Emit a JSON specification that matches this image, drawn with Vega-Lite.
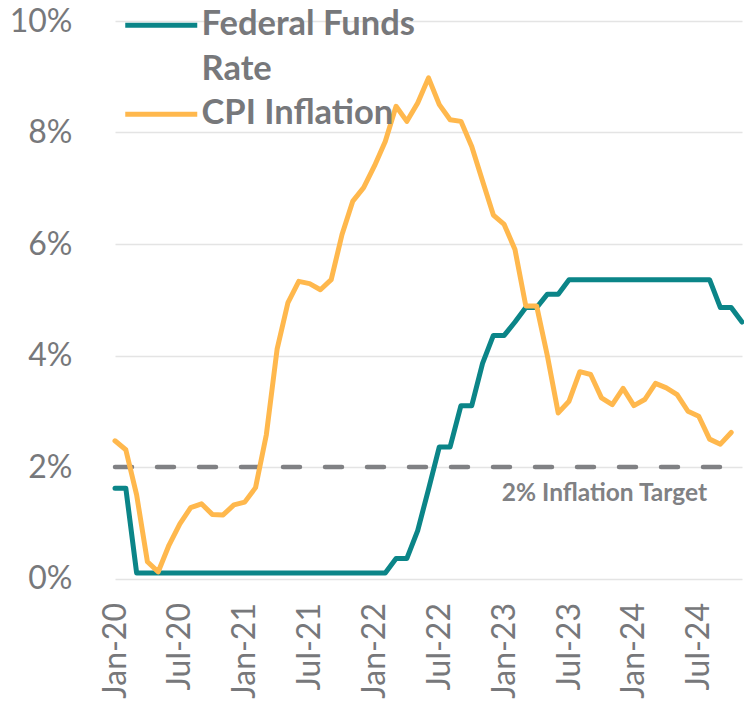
{
  "$schema": "https://vega.github.io/schema/vega-lite/v6.json",
  "autosize": "none",
  "width": 636,
  "height": 557.5,
  "padding": {"left": 108, "top": 21, "right": 0, "bottom": 125},
  "background": "white",
  "config": {
    "view": {"stroke": null},
    "font": "Lato",
    "style": {"guide-label": {"lineHeight": 45}}
  },
  "datasets": {
    "series": [
      {"month": "Jan-20", "series": "Federal Funds Rate", "value": 1.62},
      {"month": "Feb-20", "series": "Federal Funds Rate", "value": 1.62},
      {"month": "Mar-20", "series": "Federal Funds Rate", "value": 0.1},
      {"month": "Apr-20", "series": "Federal Funds Rate", "value": 0.1},
      {"month": "May-20", "series": "Federal Funds Rate", "value": 0.1},
      {"month": "Jun-20", "series": "Federal Funds Rate", "value": 0.1},
      {"month": "Jul-20", "series": "Federal Funds Rate", "value": 0.1},
      {"month": "Aug-20", "series": "Federal Funds Rate", "value": 0.1},
      {"month": "Sep-20", "series": "Federal Funds Rate", "value": 0.1},
      {"month": "Oct-20", "series": "Federal Funds Rate", "value": 0.1},
      {"month": "Nov-20", "series": "Federal Funds Rate", "value": 0.1},
      {"month": "Dec-20", "series": "Federal Funds Rate", "value": 0.1},
      {"month": "Jan-21", "series": "Federal Funds Rate", "value": 0.1},
      {"month": "Feb-21", "series": "Federal Funds Rate", "value": 0.1},
      {"month": "Mar-21", "series": "Federal Funds Rate", "value": 0.1},
      {"month": "Apr-21", "series": "Federal Funds Rate", "value": 0.1},
      {"month": "May-21", "series": "Federal Funds Rate", "value": 0.1},
      {"month": "Jun-21", "series": "Federal Funds Rate", "value": 0.1},
      {"month": "Jul-21", "series": "Federal Funds Rate", "value": 0.1},
      {"month": "Aug-21", "series": "Federal Funds Rate", "value": 0.1},
      {"month": "Sep-21", "series": "Federal Funds Rate", "value": 0.1},
      {"month": "Oct-21", "series": "Federal Funds Rate", "value": 0.1},
      {"month": "Nov-21", "series": "Federal Funds Rate", "value": 0.1},
      {"month": "Dec-21", "series": "Federal Funds Rate", "value": 0.1},
      {"month": "Jan-22", "series": "Federal Funds Rate", "value": 0.1},
      {"month": "Feb-22", "series": "Federal Funds Rate", "value": 0.1},
      {"month": "Mar-22", "series": "Federal Funds Rate", "value": 0.36},
      {"month": "Apr-22", "series": "Federal Funds Rate", "value": 0.36},
      {"month": "May-22", "series": "Federal Funds Rate", "value": 0.86},
      {"month": "Jun-22", "series": "Federal Funds Rate", "value": 1.6},
      {"month": "Jul-22", "series": "Federal Funds Rate", "value": 2.36},
      {"month": "Aug-22", "series": "Federal Funds Rate", "value": 2.36},
      {"month": "Sep-22", "series": "Federal Funds Rate", "value": 3.1},
      {"month": "Oct-22", "series": "Federal Funds Rate", "value": 3.1},
      {"month": "Nov-22", "series": "Federal Funds Rate", "value": 3.86},
      {"month": "Dec-22", "series": "Federal Funds Rate", "value": 4.36},
      {"month": "Jan-23", "series": "Federal Funds Rate", "value": 4.36},
      {"month": "Feb-23", "series": "Federal Funds Rate", "value": 4.6},
      {"month": "Mar-23", "series": "Federal Funds Rate", "value": 4.86},
      {"month": "Apr-23", "series": "Federal Funds Rate", "value": 4.86},
      {"month": "May-23", "series": "Federal Funds Rate", "value": 5.1},
      {"month": "Jun-23", "series": "Federal Funds Rate", "value": 5.1},
      {"month": "Jul-23", "series": "Federal Funds Rate", "value": 5.36},
      {"month": "Aug-23", "series": "Federal Funds Rate", "value": 5.36},
      {"month": "Sep-23", "series": "Federal Funds Rate", "value": 5.36},
      {"month": "Oct-23", "series": "Federal Funds Rate", "value": 5.36},
      {"month": "Nov-23", "series": "Federal Funds Rate", "value": 5.36},
      {"month": "Dec-23", "series": "Federal Funds Rate", "value": 5.36},
      {"month": "Jan-24", "series": "Federal Funds Rate", "value": 5.36},
      {"month": "Feb-24", "series": "Federal Funds Rate", "value": 5.36},
      {"month": "Mar-24", "series": "Federal Funds Rate", "value": 5.36},
      {"month": "Apr-24", "series": "Federal Funds Rate", "value": 5.36},
      {"month": "May-24", "series": "Federal Funds Rate", "value": 5.36},
      {"month": "Jun-24", "series": "Federal Funds Rate", "value": 5.36},
      {"month": "Jul-24", "series": "Federal Funds Rate", "value": 5.36},
      {"month": "Aug-24", "series": "Federal Funds Rate", "value": 5.36},
      {"month": "Sep-24", "series": "Federal Funds Rate", "value": 4.86},
      {"month": "Oct-24", "series": "Federal Funds Rate", "value": 4.86},
      {"month": "Nov-24", "series": "Federal Funds Rate", "value": 4.6},
      {"month": "Jan-20", "series": "CPI Inflation", "value": 2.47},
      {"month": "Feb-20", "series": "CPI Inflation", "value": 2.31},
      {"month": "Mar-20", "series": "CPI Inflation", "value": 1.5},
      {"month": "Apr-20", "series": "CPI Inflation", "value": 0.3},
      {"month": "May-20", "series": "CPI Inflation", "value": 0.12},
      {"month": "Jun-20", "series": "CPI Inflation", "value": 0.6},
      {"month": "Jul-20", "series": "CPI Inflation", "value": 0.98},
      {"month": "Aug-20", "series": "CPI Inflation", "value": 1.27},
      {"month": "Sep-20", "series": "CPI Inflation", "value": 1.34},
      {"month": "Oct-20", "series": "CPI Inflation", "value": 1.15},
      {"month": "Nov-20", "series": "CPI Inflation", "value": 1.14},
      {"month": "Dec-20", "series": "CPI Inflation", "value": 1.32},
      {"month": "Jan-21", "series": "CPI Inflation", "value": 1.37},
      {"month": "Feb-21", "series": "CPI Inflation", "value": 1.63},
      {"month": "Mar-21", "series": "CPI Inflation", "value": 2.58},
      {"month": "Apr-21", "series": "CPI Inflation", "value": 4.12},
      {"month": "May-21", "series": "CPI Inflation", "value": 4.95},
      {"month": "Jun-21", "series": "CPI Inflation", "value": 5.33},
      {"month": "Jul-21", "series": "CPI Inflation", "value": 5.29},
      {"month": "Aug-21", "series": "CPI Inflation", "value": 5.18},
      {"month": "Sep-21", "series": "CPI Inflation", "value": 5.36},
      {"month": "Oct-21", "series": "CPI Inflation", "value": 6.17},
      {"month": "Nov-21", "series": "CPI Inflation", "value": 6.77},
      {"month": "Dec-21", "series": "CPI Inflation", "value": 7.01},
      {"month": "Jan-22", "series": "CPI Inflation", "value": 7.4},
      {"month": "Feb-22", "series": "CPI Inflation", "value": 7.84},
      {"month": "Mar-22", "series": "CPI Inflation", "value": 8.47},
      {"month": "Apr-22", "series": "CPI Inflation", "value": 8.2},
      {"month": "May-22", "series": "CPI Inflation", "value": 8.53},
      {"month": "Jun-22", "series": "CPI Inflation", "value": 8.98},
      {"month": "Jul-22", "series": "CPI Inflation", "value": 8.5},
      {"month": "Aug-22", "series": "CPI Inflation", "value": 8.23},
      {"month": "Sep-22", "series": "CPI Inflation", "value": 8.2},
      {"month": "Oct-22", "series": "CPI Inflation", "value": 7.75},
      {"month": "Nov-22", "series": "CPI Inflation", "value": 7.13},
      {"month": "Dec-22", "series": "CPI Inflation", "value": 6.52},
      {"month": "Jan-23", "series": "CPI Inflation", "value": 6.35},
      {"month": "Feb-23", "series": "CPI Inflation", "value": 5.9},
      {"month": "Mar-23", "series": "CPI Inflation", "value": 4.89},
      {"month": "Apr-23", "series": "CPI Inflation", "value": 4.89},
      {"month": "May-23", "series": "CPI Inflation", "value": 3.99},
      {"month": "Jun-23", "series": "CPI Inflation", "value": 2.97},
      {"month": "Jul-23", "series": "CPI Inflation", "value": 3.18},
      {"month": "Aug-23", "series": "CPI Inflation", "value": 3.71},
      {"month": "Sep-23", "series": "CPI Inflation", "value": 3.66},
      {"month": "Oct-23", "series": "CPI Inflation", "value": 3.24},
      {"month": "Nov-23", "series": "CPI Inflation", "value": 3.12},
      {"month": "Dec-23", "series": "CPI Inflation", "value": 3.41},
      {"month": "Jan-24", "series": "CPI Inflation", "value": 3.1},
      {"month": "Feb-24", "series": "CPI Inflation", "value": 3.21},
      {"month": "Mar-24", "series": "CPI Inflation", "value": 3.5},
      {"month": "Apr-24", "series": "CPI Inflation", "value": 3.42},
      {"month": "May-24", "series": "CPI Inflation", "value": 3.3},
      {"month": "Jun-24", "series": "CPI Inflation", "value": 3.0},
      {"month": "Jul-24", "series": "CPI Inflation", "value": 2.91},
      {"month": "Aug-24", "series": "CPI Inflation", "value": 2.5},
      {"month": "Sep-24", "series": "CPI Inflation", "value": 2.41},
      {"month": "Oct-24", "series": "CPI Inflation", "value": 2.62}
    ],
    "target": [
      {"month": "Jan-20", "value": 2}, {"month": "Feb-20", "value": 2}, {"month": "Mar-20", "value": 2},
      {"month": "Apr-20", "value": 2}, {"month": "May-20", "value": 2}, {"month": "Jun-20", "value": 2},
      {"month": "Jul-20", "value": 2}, {"month": "Aug-20", "value": 2}, {"month": "Sep-20", "value": 2},
      {"month": "Oct-20", "value": 2}, {"month": "Nov-20", "value": 2}, {"month": "Dec-20", "value": 2},
      {"month": "Jan-21", "value": 2}, {"month": "Feb-21", "value": 2}, {"month": "Mar-21", "value": 2},
      {"month": "Apr-21", "value": 2}, {"month": "May-21", "value": 2}, {"month": "Jun-21", "value": 2},
      {"month": "Jul-21", "value": 2}, {"month": "Aug-21", "value": 2}, {"month": "Sep-21", "value": 2},
      {"month": "Oct-21", "value": 2}, {"month": "Nov-21", "value": 2}, {"month": "Dec-21", "value": 2},
      {"month": "Jan-22", "value": 2}, {"month": "Feb-22", "value": 2}, {"month": "Mar-22", "value": 2},
      {"month": "Apr-22", "value": 2}, {"month": "May-22", "value": 2}, {"month": "Jun-22", "value": 2},
      {"month": "Jul-22", "value": 2}, {"month": "Aug-22", "value": 2}, {"month": "Sep-22", "value": 2},
      {"month": "Oct-22", "value": 2}, {"month": "Nov-22", "value": 2}, {"month": "Dec-22", "value": 2},
      {"month": "Jan-23", "value": 2}, {"month": "Feb-23", "value": 2}, {"month": "Mar-23", "value": 2},
      {"month": "Apr-23", "value": 2}, {"month": "May-23", "value": 2}, {"month": "Jun-23", "value": 2},
      {"month": "Jul-23", "value": 2}, {"month": "Aug-23", "value": 2}, {"month": "Sep-23", "value": 2},
      {"month": "Oct-23", "value": 2}, {"month": "Nov-23", "value": 2}, {"month": "Dec-23", "value": 2},
      {"month": "Jan-24", "value": 2}, {"month": "Feb-24", "value": 2}, {"month": "Mar-24", "value": 2},
      {"month": "Apr-24", "value": 2}, {"month": "May-24", "value": 2}, {"month": "Jun-24", "value": 2},
      {"month": "Jul-24", "value": 2}, {"month": "Aug-24", "value": 2}, {"month": "Sep-24", "value": 2}
    ],
    "note": [{"month": "Oct-23", "value": 2, "label": "2% Inflation Target"}]
  },
  "encoding": {
    "x": {
      "field": "month", "type": "ordinal", "sort": null,
      "scale": {"type": "point", "range": [7, 634], "padding": 0},
      "axis": {
        "title": null, "domain": false, "ticks": false, "grid": false,
        "values": ["Jan-20", "Jul-20", "Jan-21", "Jul-21", "Jan-22", "Jul-22", "Jan-23", "Jul-23", "Jan-24", "Jul-24"],
        "labelAngle": 270, "labelAlign": "right", "labelBaseline": "middle",
        "labelPadding": 24, "labelFontSize": 32, "labelFont": "Lato", "labelColor": "#77787b"
      }
    },
    "y": {
      "field": "value", "type": "quantitative",
      "scale": {"domain": [0, 10], "nice": false, "zero": true},
      "axis": {
        "title": null, "domain": false, "ticks": false, "values": [0, 2, 4, 6, 8, 10],
        "labelExpr": "datum.value + '%'",
        "labelPadding": 36, "labelFontSize": 32, "labelFont": "Lato", "labelColor": "#77787b",
        "grid": true, "gridColor": "#e4e4e4", "gridWidth": 1.5
      }
    }
  },
  "layer": [
    {
      "data": {"name": "target"},
      "mark": {"type": "line", "color": "#808184", "strokeWidth": 4.5, "strokeDash": [17, 25], "strokeCap": "round"},
      "encoding": {}
    },
    {
      "data": {"name": "note"},
      "mark": {"type": "text", "font": "Lato", "fontWeight": "bold", "fontSize": 24.5, "color": "#808184", "align": "center", "baseline": "alphabetic", "dy": 34, "dx": 3},
      "encoding": {"text": {"field": "label"}}
    },
    {
      "data": {"name": "series"},
      "transform": [{"filter": "datum.series == 'Federal Funds Rate'"}],
      "mark": {"type": "line", "strokeWidth": 5, "strokeJoin": "round", "strokeCap": "round"},
      "encoding": {
        "color": {
          "field": "series", "type": "nominal",
          "scale": {"domain": ["Federal Funds Rate", "CPI Inflation"], "range": ["#0B8588", "#FFB84D"]},
          "legend": {
            "orient": "none", "legendX": 36, "legendY": -13, "title": null,
            "symbolType": "M-3,0H3", "symbolSize": 576, "symbolStrokeWidth": 5,
            "labelFontSize": 34.5, "labelFont": "Lato", "labelFontWeight": "bold", "labelColor": "#77787b",
            "labelOffset": 23, "labelLimit": 0, "padding": 0, "rowPadding": 9,
            "labelExpr": "datum.label == 'Federal Funds Rate' ? ['Federal Funds', 'Rate'] : datum.label"
          }
        }
      }
    },
    {
      "data": {"name": "series"},
      "transform": [{"filter": "datum.series == 'CPI Inflation'"}],
      "mark": {"type": "line", "strokeWidth": 5, "strokeJoin": "round", "strokeCap": "round"},
      "encoding": {
        "color": {"field": "series", "type": "nominal"}
      }
    }
  ]
}
